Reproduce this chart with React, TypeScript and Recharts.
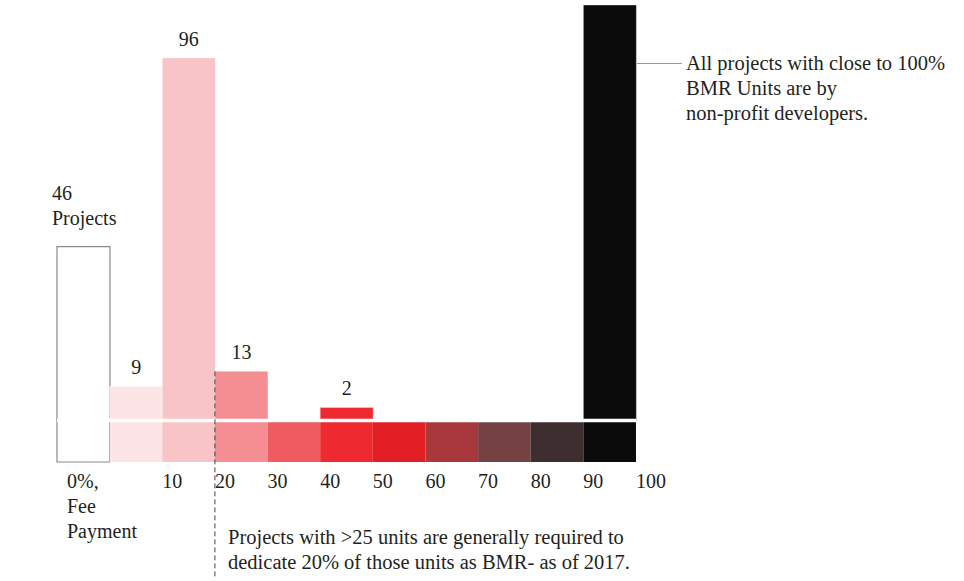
import {
  ComposedChart,
  Bar,
  Cell,
  XAxis,
  YAxis,
  ReferenceArea,
  ReferenceLine,
  LabelList,
} from 'recharts';

const BINS = ['0%', '0-10', '10-20', '20-30', '30-40', '40-50', '50-60', '60-70', '70-80', '80-90', '90-100'];
const PROJECTS = [46, 9, 96, 13, 0, 2, 0, 0, 0, 0, 110];
const BAR_LABELS = ['46\nProjects', '9', '96', '13', '', '2', '', '', '', '', ''];
const BIN_COLORS = [
  '#ffffff',
  '#fde4e6',
  '#f8c4c7',
  '#f48e92',
  '#f05b5f',
  '#ee2a30',
  '#e31f26',
  '#a8383b',
  '#744243',
  '#3e2e2f',
  '#0a0b0a',
];
// label drawn at the lower edge of each bin, plus one at the top edge of the last bin
const TICK_LABELS = ['0%,\nFee\nPayment', '', '10', '20', '30', '40', '50', '60', '70', '80', '90'];
const LAST_EDGE_LABEL = '100';

const FONT = "'Liberation Serif', 'Times New Roman', serif";
const INK = '#231f20';
const PLOT_WIDTH = 579;
const BAND = PLOT_WIDTH / BINS.length;

const chartData = BINS.map((bin, i) => ({
  bin,
  projects: PROJECTS[i],
  label: BAR_LABELS[i],
}));

function EdgeTick({ x, y, payload }: any) {
  const i = BINS.indexOf(payload.value);
  if (i < 0) return null;
  const left = x - BAND / 2;
  const lines = TICK_LABELS[i] ? TICK_LABELS[i].split('\n') : [];
  const tx = i === 0 ? left + 10 : left;
  const ty = y + 26;
  return (
    <g>
      {lines.length > 0 && (
        <text x={tx} y={ty} fill={INK} fontSize={20} fontFamily={FONT}>
          {lines.map((line, k) => (
            <tspan key={k} x={tx} dy={k === 0 ? 0 : 25}>
              {line}
            </tspan>
          ))}
        </text>
      )}
      {i === BINS.length - 1 && (
        <text x={left + BAND} y={ty} fill={INK} fontSize={20} fontFamily={FONT}>
          {LAST_EDGE_LABEL}
        </text>
      )}
    </g>
  );
}

function BarLabel(props: any) {
  const { x, y, width, value } = props;
  if (!value) return null;
  const lines = String(value).split('\n');
  if (lines.length > 1) {
    return (
      <text x={x - 5} y={y - 47} fill={INK} fontSize={20} fontFamily={FONT}>
        {lines.map((line, k) => (
          <tspan key={k} x={x - 5} dy={k === 0 ? 0 : 25.5}>
            {line}
          </tspan>
        ))}
      </text>
    );
  }
  return (
    <text x={x + width / 2} y={y - 12} fill={INK} fontSize={20} fontFamily={FONT} textAnchor="middle">
      {value}
    </text>
  );
}

const noteStyle: React.CSSProperties = {
  position: 'absolute',
  fontFamily: FONT,
  fontSize: 20.5,
  lineHeight: '25px',
  color: INK,
  whiteSpace: 'nowrap',
};

export default function App() {
  return (
    <div style={{ position: 'absolute', left: 0, top: 0, width: 964, height: 581, background: '#fff' }}>
      <ComposedChart
        width={964}
        height={581}
        data={chartData}
        margin={{ top: 5, right: 328, bottom: 89, left: 57 }}
        barCategoryGap={0}
        barGap={0}
      >
        <XAxis
          xAxisId="cat"
          dataKey="bin"
          type="category"
          interval={0}
          axisLine={false}
          tickLine={false}
          tickSize={0}
          tickMargin={0}
          height={30}
          tick={<EdgeTick />}
        />
        <YAxis domain={[-11, 110]} allowDataOverflow hide />

        {BINS.map((bin, i) => (
          <ReferenceArea
            key={bin}
            xAxisId="cat"
            x1={bin}
            x2={bin}
            y1={-11}
            y2={0}
            fill={BIN_COLORS[i]}
            fillOpacity={1}
            stroke={i === 0 ? '#8a8a8a' : 'none'}
            strokeWidth={1.2}
          />
        ))}

        <Bar
          xAxisId="cat"
          dataKey="projects"
          isAnimationActive={false}
          minPointSize={(value: number) => (value > 0 ? 13 : 0)}
        >
          {chartData.map((d, i) => (
            <Cell
              key={d.bin}
              fill={BIN_COLORS[i]}
              stroke={i === 0 ? '#8a8a8a' : '#ffffff'}
              strokeOpacity={i === 0 ? 1 : 0.35}
              strokeWidth={i === 0 ? 1.2 : 1}
            />
          ))}
          <LabelList dataKey="label" content={<BarLabel />} />
        </Bar>

        <ReferenceLine xAxisId="cat" y={0} stroke="#ffffff" strokeWidth={3.5} />
        <ReferenceLine
          xAxisId="cat"
          position="start"
          segment={[
            { x: '20-30', y: 13 },
            { x: '20-30', y: -42 },
          ]}
          ifOverflow="visible"
          stroke="#444"
          strokeWidth={1}
          strokeDasharray="5 3"
        />
      </ComposedChart>

      <div
        style={{ position: 'absolute', left: 637, top: 63, width: 45, borderTop: '1px solid #9a9a9a' }}
      />
      <div style={{ ...noteStyle, left: 686, top: 51 }}>
        All projects with close to 100%
        <br />
        BMR Units are by
        <br />
        non-profit developers.
      </div>
      <div style={{ ...noteStyle, left: 228, top: 524.5 }}>
        Projects with &gt;25 units are generally required to
        <br />
        dedicate 20% of those units as BMR- as of 2017.
      </div>
    </div>
  );
}
